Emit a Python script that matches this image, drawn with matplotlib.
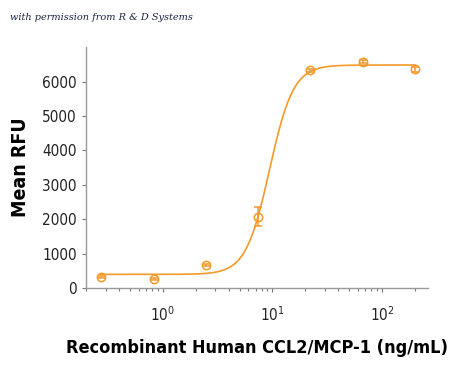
import numpy as np
import matplotlib
matplotlib.use("Agg")
import matplotlib.pyplot as plt
from matplotlib.ticker import LogLocator, NullFormatter

# Measured points (ng/mL, Mean RFU)
conc = [0.27, 0.82, 2.47, 7.4, 22.2, 66.7, 200]
rfu = [330, 270, 670, 2080, 6330, 6580, 6360]
err = [30, 20, 30, 280, 40, 40, 70]

# 4PL fit parameters
bottom, top, ec50, hill = 400, 6480, 9.4, 4.0

orange = "#F39A2B"

fig = plt.figure(figsize=(4.5, 3.68), dpi=100)
ax = fig.add_axes([0.191, 0.217, 0.76, 0.655])

xs = np.logspace(np.log10(conc[0]), np.log10(conc[-1]), 300)
ys = bottom + (top - bottom) / (1 + (ec50 / xs) ** hill)
ax.plot(xs, ys, color=orange, lw=1.2)
ax.errorbar(conc, rfu, yerr=err, fmt="o", mfc="none", mec=orange, ms=6,
            mew=1.1, ecolor=orange, elinewidth=1.1, capsize=3, capthick=1.1)

ax.set_xscale("log")
ax.set_xlim(0.198, 263)
ax.set_ylim(0, 7000)
ax.set_yticks([0, 1000, 2000, 3000, 4000, 5000, 6000])
ax.xaxis.set_minor_locator(LogLocator(base=10, subs=np.arange(2, 10)))
ax.xaxis.set_minor_formatter(NullFormatter())

for s in ["top", "right"]:
    ax.spines[s].set_visible(False)
for s in ["left", "bottom"]:
    ax.spines[s].set_color("#999999")
    ax.spines[s].set_linewidth(1.0)
ax.tick_params(axis="both", which="both", color="#777777", length=3, width=0.8)
ax.tick_params(axis="x", which="minor", length=2)
ax.tick_params(axis="x", pad=9)
for lab in ax.get_xticklabels() + ax.get_yticklabels():
    lab.set_family("DejaVu Sans")
    lab.set_stretch("condensed")
    lab.set_fontsize(11)
    lab.set_color("#222222")

ax.set_ylabel("Mean RFU", family="DejaVu Sans", stretch="condensed",
              fontsize=14, fontweight="bold", labelpad=9)
ax.set_xlabel("Recombinant Human CCL2/MCP-1 (ng/mL)", family="DejaVu Sans",
              stretch="condensed", fontsize=13, fontweight="bold", labelpad=11)

fig.text(0.022, 0.945, "with permission from R & D Systems", family="DejaVu Serif",
         style="italic", fontsize=7, color="#1a2340")

fig.savefig("out.png", dpi=100)
